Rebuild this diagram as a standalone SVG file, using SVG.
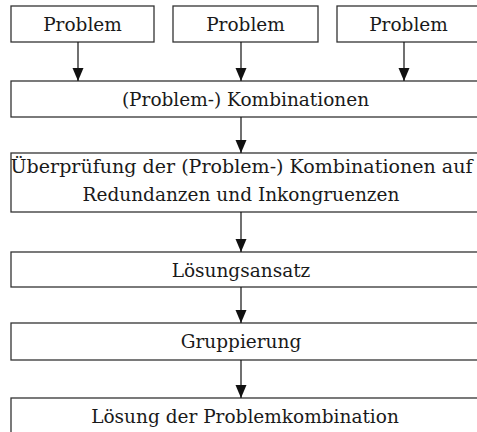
<svg xmlns="http://www.w3.org/2000/svg" width="477" height="432" viewBox="0 0 477 432">
  <defs>
    <marker id="head" markerUnits="userSpaceOnUse" markerWidth="13" markerHeight="12" viewBox="0 0 13 12" refX="13" refY="6" orient="auto">
      <path d="M0,0.5 L13,6 L0,11.5 Z" fill="#111"/>
    </marker>
    <style>
      .box { fill: #fff; stroke: #333; stroke-width: 1.3; }
      .lbl { font-family: "DejaVu Serif", "Liberation Serif", serif; font-size: 18.5px; fill: #1a1a1a; text-anchor: middle; }
      .edge { stroke: #111; stroke-width: 1.2; fill: none; marker-end: url(#head); }
    </style>
  </defs>
  <rect width="477" height="432" fill="#fff"/>

  <g id="problem1">
    <rect class="box" x="11" y="6" width="143" height="36"/>
    <text class="lbl" x="82.5" y="31">Problem</text>
  </g>
  <g id="problem2">
    <rect class="box" x="173" y="6" width="145" height="36"/>
    <text class="lbl" x="245.5" y="31">Problem</text>
  </g>
  <g id="problem3">
    <rect class="box" x="337" y="6" width="143" height="36"/>
    <text class="lbl" x="408.5" y="31">Problem</text>
  </g>
  <g id="kombinationen">
    <rect class="box" x="11" y="81" width="469" height="36"/>
    <text class="lbl" x="245.5" y="106">(Problem-) Kombinationen</text>
  </g>
  <g id="pruefung">
    <rect class="box" x="11" y="153" width="469" height="59"/>
    <text class="lbl" x="241.5" y="173" textLength="462" lengthAdjust="spacingAndGlyphs">Überprüfung der (Problem-) Kombinationen auf</text>
    <text class="lbl" x="241" y="201">Redundanzen und Inkongruenzen</text>
  </g>
  <g id="loesungsansatz">
    <rect class="box" x="11" y="252" width="469" height="35"/>
    <text class="lbl" x="241" y="277">Lösungsansatz</text>
  </g>
  <g id="gruppierung">
    <rect class="box" x="11" y="323" width="469" height="37"/>
    <text class="lbl" x="241" y="348">Gruppierung</text>
  </g>
  <g id="loesung">
    <rect class="box" x="11" y="398" width="469" height="40"/>
    <text class="lbl" x="245" y="423">Lösung der Problemkombination</text>
  </g>

  <g id="connectors">
    <line class="edge" x1="78" y1="42" x2="78" y2="81"/>
    <line class="edge" x1="241" y1="42" x2="241" y2="81"/>
    <line class="edge" x1="404" y1="42" x2="404" y2="81"/>
    <line class="edge" x1="241" y1="117" x2="241" y2="153"/>
    <line class="edge" x1="241" y1="212" x2="241" y2="252"/>
    <line class="edge" x1="241" y1="287" x2="241" y2="323"/>
    <line class="edge" x1="241" y1="360" x2="241" y2="398"/>
  </g>
</svg>
